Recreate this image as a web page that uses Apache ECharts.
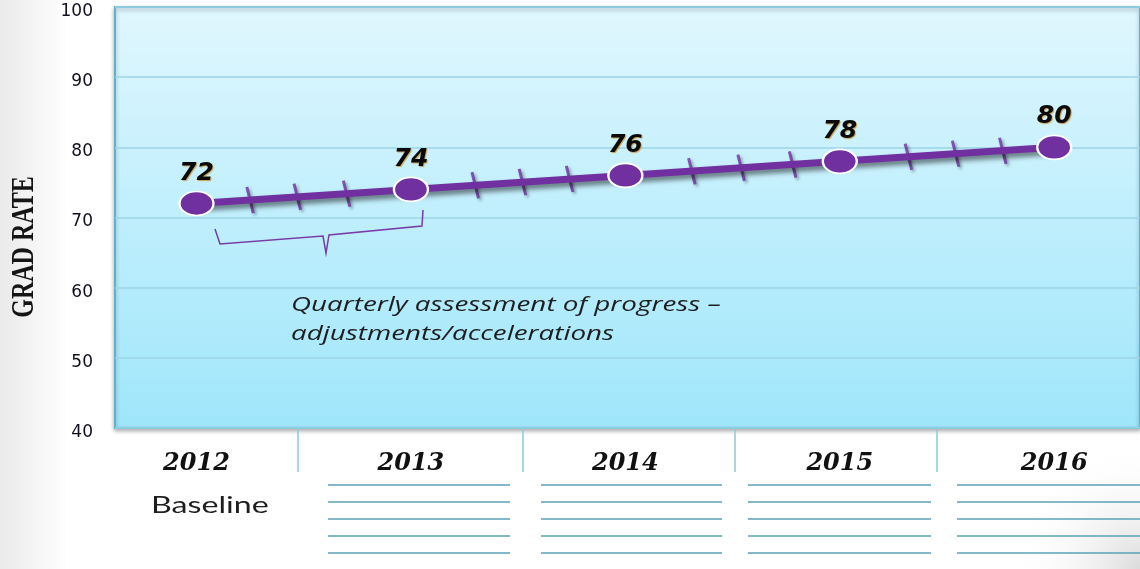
<!DOCTYPE html>
<html>
<head>
<meta charset="utf-8">
<script src="https://cdn.jsdelivr.net/npm/echarts@6/dist/echarts.min.js"></script>
<style>
  html, body { margin: 0; padding: 0; background: #fff; }
  #gradRate { width: 1140px; height: 569px; }
</style>
</head>
<body>
<div id="gradRate"></div>
<script>
/* grad rate target line */
var years = [2012, 2013, 2014, 2015, 2016];
var rates = [72, 74, 76, 78, 80];
// quarterly check marks along the line
var quarterYears = [2012.25, 2012.47, 2012.7, 2013.3, 2013.52, 2013.74, 2014.31, 2014.54, 2014.78, 2015.32, 2015.54, 2015.76];
var quarterRates = [72.5, 72.95, 73.4, 74.6, 75.05, 75.5, 76.6, 77.1, 77.55, 78.65, 79.1, 79.5];
var yTicks = [40, 50, 60, 70, 80, 90, 100];
var columnSplits = [2012.47, 2013.52, 2014.51, 2015.45];
var yTitle = 'GRAD RATE';
var firstColText = 'Baseline';
var noteText = 'Quarterly assessment of progress \u2013\nadjustments/accelerations';

(function(global) {
  var purple = '#7030a0';
  var gradChart = {
    init: function() {
      this.chart = echarts.init(document.getElementById('gradRate'));
      this.chart.setOption(this.getOption());
    },
    getLines: function() {
      // blank write-in lines under 2013..2016
      var cols = [[328, 510], [541, 722], [748, 931], [957, 1140]];
      var rows = [485, 502, 519, 536, 553];
      var out = [];
      for (var i = 0; i < cols.length; i++) {
        for (var j = 0; j < rows.length; j++) {
          out.push({
            type: 'line',
            silent: true,
            shape: { x1: cols[i][0], y1: rows[j], x2: cols[i][1], y2: rows[j] },
            style: { stroke: '#5b9fb6', lineWidth: 1.5 }
          });
        }
      }
      return out;
    },
    getOption: function() {
      var pts = [];
      for (var i = 0; i < years.length; i++) pts.push([years[i], rates[i]]);
      var qpts = [];
      for (var k = 0; k < quarterYears.length; k++) qpts.push([quarterYears[k], quarterRates[k]]);

      var graphic = [
        {
          type: 'rect', z: -10, silent: true,
          shape: { x: 0, y: 0, width: 1140, height: 569 },
          style: {
            fill: new echarts.graphic.LinearGradient(0, 0, 1, 0, [
              { offset: 0, color: '#eaeaea' },
              { offset: 0.06, color: '#ffffff' },
              { offset: 1, color: '#ffffff' }
            ])
          }
        },
        {
          type: 'rect', z: -9, silent: true,
          shape: { x: 900, y: 440, width: 240, height: 129 },
          style: {
            fill: new echarts.graphic.RadialGradient(1, 1, 1, [
              { offset: 0, color: 'rgba(215,215,215,0.9)' },
              { offset: 1, color: 'rgba(255,255,255,0)' }
            ])
          }
        },
        {
          type: 'text', silent: true, z: 10,
          x: 25, y: 247, rotation: Math.PI / 2, scaleY: 1.35,
          style: {
            text: yTitle, x: 0, y: 0,
            align: 'center', verticalAlign: 'middle',
            font: 'bold 24px "Liberation Serif"',
            fill: '#151515'
          }
        },
        {
          type: 'polyline', silent: true, z: 10,
          shape: { points: [[215, 229], [220, 244], [323, 236], [326, 253], [329, 235], [422, 226], [423, 210]] },
          style: { stroke: '#7a3aa8', lineWidth: 1.5, fill: null }
        },
        {
          type: 'text', silent: true, z: 10,
          x: 291, y: 291, scaleX: 1.39,
          style: {
            text: noteText, x: 0, y: 0,
            align: 'left', verticalAlign: 'top',
            font: 'italic 20px "Open Sans"',
            fill: '#1e1e1e',
            lineHeight: 29
          }
        },
        {
          type: 'text', silent: true, z: 10,
          x: 151, y: 505, scaleX: 1.34,
          style: {
            text: firstColText, x: 0, y: 0,
            align: 'left', verticalAlign: 'middle',
            font: '24px Lato',
            fill: '#1e1e1e'
          }
        }
      ].concat(this.getLines());

      return {
        animation: false,
        graphic: graphic,
        grid: {
          left: 115, top: 7, right: -12, bottom: 141,
          show: true,
          backgroundColor: new echarts.graphic.LinearGradient(0, 0, 0, 1, [
            { offset: 0, color: '#e0f7fe' },
            { offset: 1, color: '#9fe6fb' }
          ]),
          borderColor: '#62b0c9',
          borderWidth: 2,
          shadowColor: 'rgba(0,0,0,0.3)',
          shadowBlur: 4,
          shadowOffsetY: 2
        },
        xAxis: {
          type: 'value',
          min: 2011.62,
          max: 2016.4,
          axisLine: { show: false },
          splitLine: { show: false },
          axisTick: {
            show: true,
            inside: false,
            length: 44,
            customValues: columnSplits,
            lineStyle: { color: '#8ccadc', width: 1.5 }
          },
          axisLabel: {
            customValues: years,
            formatter: function(v) { return String(v); },
            margin: 24,
            fontFamily: 'DejaVu Serif',
            fontStyle: 'italic',
            fontWeight: 'bold',
            fontSize: 24,
            color: '#111'
          }
        },
        yAxis: {
          type: 'value',
          min: yTicks[0],
          max: yTicks[yTicks.length - 1],
          interval: 10,
          axisLine: { show: false },
          axisTick: { show: false },
          axisLabel: {
            margin: 22,
            formatter: '{v|{value}}',
            rich: {
              v: {
                padding: [9, 0, 0, 0],
                fontFamily: 'DejaVu Sans',
                fontSize: 17,
                color: '#101020'
              }
            }
          },
          splitLine: { lineStyle: { color: '#9cd4e4', width: 1.5 } }
        },
        series: [
          {
            type: 'line',
            data: pts,
            z: 4,
            symbol: 'circle',
            symbolSize: [34, 24],
            itemStyle: { color: purple, borderColor: '#fff', borderWidth: 2 },
            lineStyle: {
              color: purple, width: 7,
              shadowColor: 'rgba(0,0,0,0.5)', shadowBlur: 5, shadowOffsetX: 2, shadowOffsetY: 4
            },
            label: {
              show: true,
              position: 'top',
              distance: 5,
              fontFamily: 'DejaVu Sans',
              fontStyle: 'italic',
              fontWeight: 'bold',
              fontSize: 25,
              color: '#0a0a0a',
              textShadowColor: 'rgba(200,140,40,0.8)',
              textShadowBlur: 1,
              textShadowOffsetX: 1,
              textShadowOffsetY: 1
            }
          },
          {
            type: 'scatter',
            data: qpts,
            z: 3,
            symbol: 'rect',
            symbolSize: [3, 27],
            symbolRotate: 14,
            itemStyle: {
              color: purple,
              shadowColor: 'rgba(0,0,0,0.4)', shadowBlur: 3, shadowOffsetX: 2, shadowOffsetY: 2
            }
          }
        ]
      };
    }
  };
  global.gradChart = gradChart;
})(window);

gradChart.init();
</script>
</body>
</html>
